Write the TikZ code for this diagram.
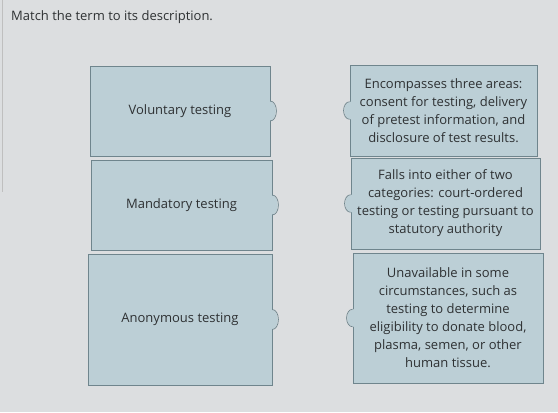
\documentclass[tikz,border=0pt]{standalone}
\usepackage{fontspec}
\setmainfont{Open Sans}
\usepackage{tikz}
\definecolor{pagebg}{HTML}{DCDEE0}
\definecolor{cardfill}{HTML}{BCCFD6}
\definecolor{cardline}{HTML}{6F858D}
\definecolor{inkgray}{HTML}{2E3133}
\tikzset{card/.style={rectangle, draw=cardline, fill=cardfill, line width=0.6pt,
      inner sep=0pt, align=center, text=inkgray,
      font=\fontsize{11.1}{15.4}\selectfont}}
\tikzset{tabfill/.style={fill=cardfill}}
\tikzset{tabline/.style={draw=cardline, line width=0.6pt}}

\begin{document}
\begin{tikzpicture}[x=0.03cm,y=-0.03cm]
    \fill[pagebg] (0,0) rectangle (558,412);
    \useasboundingbox (0,0) rectangle (558,412);
    \draw[black!25, line width=0.5pt] (2,0) -- (2,192);
    \node[anchor=base west, inner sep=0pt, text=inkgray, font=\fontsize{11.1}{13}\selectfont] (title) at (11,20) {Match the term to its description.};
    % terms
    \node[card, minimum width=5.4cm, minimum height=2.7cm] (vol) at (180,111) {Voluntary testing};
    \node[card, minimum width=5.43cm, minimum height=2.7cm] (man) at (181.5,205) {Mandatory testing};
    \node[card, minimum width=5.52cm, minimum height=3.93cm] (ano) at (180,319.5) {Anonymous testing};
    % descriptions
    \node[card, minimum width=5.61cm, minimum height=2.73cm] (enc) at (443.5,110.5) {Encompasses three areas:\\consent for testing, delivery\\of pretest information, and\\disclosure of test results.};
    \node[card, minimum width=5.67cm, minimum height=2.73cm] (fal) at (445.5,203.5) {Falls into either of two\\categories: court-ordered\\testing or testing pursuant to\\statutory authority};
    \node[card, minimum width=5.7cm, minimum height=3.9cm] (una) at (448,318) {Unavailable in some\\circumstances, such as\\testing to determine\\eligibility to donate blood,\\plasma, semen, or other\\human tissue.};
    % tabs on the right of the terms
    \fill[tabfill] ([xshift=-1pt,yshift=8.5pt]vol.east) arc[start angle=90,end angle=-90,x radius=5.6pt,y radius=8.5pt] -- cycle;
    \draw[tabline] ([yshift=8.5pt]vol.east) arc[start angle=90,end angle=-90,x radius=5.2pt,y radius=8.5pt];
    \fill[tabfill] ([xshift=-1pt,yshift=8.5pt]man.east) arc[start angle=90,end angle=-90,x radius=5.6pt,y radius=8.5pt] -- cycle;
    \draw[tabline] ([yshift=8.5pt]man.east) arc[start angle=90,end angle=-90,x radius=5.2pt,y radius=8.5pt];
    \fill[tabfill] ([xshift=-1pt,yshift=8.5pt]ano.east) arc[start angle=90,end angle=-90,x radius=5.6pt,y radius=8.5pt] -- cycle;
    \draw[tabline] ([yshift=8.5pt]ano.east) arc[start angle=90,end angle=-90,x radius=5.2pt,y radius=8.5pt];
    % tabs on the left of the descriptions
    \fill[tabfill] ([xshift=1pt,yshift=7.5pt]enc.west) arc[start angle=90,end angle=270,x radius=5.6pt,y radius=7.5pt] -- cycle;
    \draw[tabline] ([yshift=7.5pt]enc.west) arc[start angle=90,end angle=270,x radius=5.2pt,y radius=7.5pt];
    \fill[tabfill] ([xshift=1pt,yshift=7.5pt]fal.west) arc[start angle=90,end angle=270,x radius=5.6pt,y radius=7.5pt] -- cycle;
    \draw[tabline] ([yshift=7.5pt]fal.west) arc[start angle=90,end angle=270,x radius=5.2pt,y radius=7.5pt];
    \fill[tabfill] ([xshift=1pt,yshift=7.5pt]una.west) arc[start angle=90,end angle=270,x radius=5.6pt,y radius=7.5pt] -- cycle;
    \draw[tabline] ([yshift=7.5pt]una.west) arc[start angle=90,end angle=270,x radius=5.2pt,y radius=7.5pt];
  \end{tikzpicture}
\end{document}
